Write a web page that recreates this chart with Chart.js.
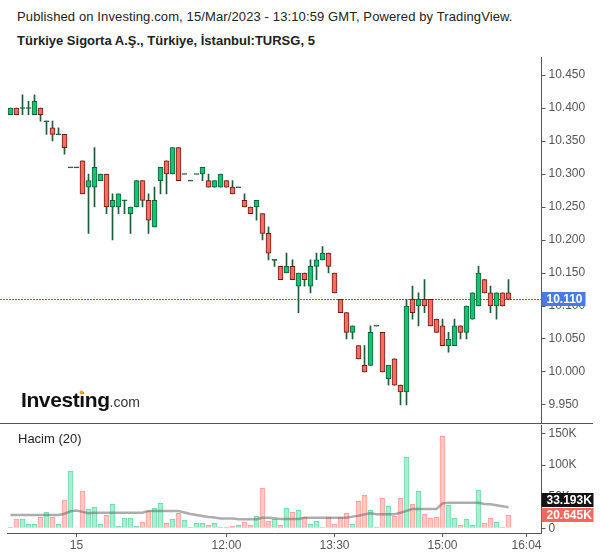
<!DOCTYPE html>
<html>
<head>
<meta charset="utf-8">
<script src="https://cdn.jsdelivr.net/npm/chart.js@4.4.0/dist/chart.umd.min.js"></script>
<style>
  body { margin: 0; background: #fff; font-family: "Liberation Sans", Arial, sans-serif; }
  #wrap { position: relative; width: 600px; height: 558px; overflow: hidden; }
  .t { position: absolute; left: 17px; font-size: 13px; color: #222; white-space: nowrap; line-height: 15px; }
  #pricebox { position: absolute; left: 0; top: 57px; width: 600px; height: 367px; }
  #volbox { position: absolute; left: 0; top: 424px; width: 600px; height: 134px; }
  #sep { position: absolute; left: 0; top: 423px; width: 593px; height: 1px; background: #555; }
  #hacim { position: absolute; left: 18px; top: 431px; font-size: 13px; color: #222; line-height: 15px; }
</style>
</head>
<body>
<div id="wrap">
  <div class="t" style="top:9px; letter-spacing:0.12px">Published on Investing.com, 15/Mar/2023 - 13:10:59 GMT, Powered by TradingView.</div>
  <div class="t" style="top:33px; font-weight:bold">Türkiye Sigorta A.Ş., Türkiye, İstanbul:TURSG, 5</div>
  <div id="pricebox"><canvas id="price"></canvas></div>
  <div id="volbox"><canvas id="vol"></canvas></div>
  <div id="sep"></div>
  <div id="hacim">Hacim (20)</div>
</div>
<script>
// 5 minute bars: end of 14 Mar, then 15 Mar; the last slots are empty space on the right
const slots = [
    "17:10", "17:15", "17:20", "17:25", "17:30", "17:35", "17:40", "17:45", "17:50", "17:55", "18:00",
    "09:55", "10:00", "10:05", "10:10", "10:15", "10:20", "10:25", "10:30", "10:35", "10:40", "10:45", "10:50", "10:55",
    "11:00", "11:05", "11:10", "11:15", "11:20", "11:25", "11:30", "11:35", "11:40", "11:45", "11:50", "11:55",
    "12:00", "12:05", "12:10", "12:15", "12:20", "12:25", "12:30", "12:35", "12:40", "12:45", "12:50", "12:55",
    "13:00", "13:05", "13:10", "13:15", "13:20", "13:25", "13:30", "13:35", "13:40", "13:45", "13:50", "13:55",
    "14:00", "14:05", "14:10", "14:15", "14:20", "14:25", "14:30", "14:35", "14:40", "14:45", "14:50", "14:55",
    "15:00", "15:05", "15:10", "15:15", "15:20", "15:25", "15:30", "15:35", "15:40", "15:45", "15:50", "15:55",
    "", "", "16:04", "", ""
];

// time axis labels shown (slot label -> text)
const tickLabels = { "09:55": "15", "12:00": "12:00", "13:30": "13:30", "15:00": "15:00", "16:04": "16:04" };
const priceTicks = [9.95, 10.00, 10.05, 10.10, 10.15, 10.20, 10.25, 10.30, 10.35, 10.40, 10.45];
const volumeTicks = [0, 50000, 100000, 150000];

const opens = [
    10.39, 10.40, 10.40, 10.40, 10.39, 10.40, 10.38, 10.37, 10.36, 10.36, 10.31,
    10.31, 10.32, 10.28, 10.28, 10.29, 10.30, 10.25, 10.25, 10.26, 10.24, 10.25, 10.29, 10.26,
    10.22, 10.29, 10.32, 10.30, 10.34, 10.30, 10.29, 10.30, 10.30, 10.29, 10.28, 10.28,
    10.29, 10.28, 10.28, 10.26, 10.25, 10.25, 10.24, 10.21, 10.17, 10.16, 10.15, 10.16,
    10.13, 10.15, 10.13, 10.16, 10.17, 10.18, 10.15, 10.11, 10.09, 10.06, 10.04, 10.01,
    10.01, 10.07, 10.06, 9.99, 10.02, 9.98, 9.97, 10.11, 10.10, 10.11, 10.11, 10.08,
    10.07, 10.04, 10.04, 10.07, 10.06, 10.08, 10.10, 10.14, 10.12, 10.10, 10.12, 10.12
];
const highs = [
    10.40, 10.40, 10.42, 10.41, 10.42, 10.40, 10.38, 10.38, 10.37, 10.36, 10.31,
    10.31, 10.32, 10.30, 10.34, 10.30, 10.30, 10.27, 10.27, 10.26, 10.25, 10.29, 10.29, 10.27,
    10.28, 10.31, 10.32, 10.34, 10.34, 10.30, 10.29, 10.30, 10.31, 10.30, 10.29, 10.30,
    10.29, 10.29, 10.28, 10.27, 10.25, 10.26, 10.24, 10.22, 10.17, 10.16, 10.18, 10.17,
    10.15, 10.15, 10.17, 10.18, 10.19, 10.18, 10.15, 10.11, 10.09, 10.07, 10.04, 10.04,
    10.07, 10.07, 10.06, 10.01, 10.02, 9.98, 10.11, 10.13, 10.12, 10.14, 10.11, 10.08,
    10.08, 10.06, 10.08, 10.07, 10.10, 10.12, 10.16, 10.14, 10.13, 10.12, 10.12, 10.14
];
const lows = [
    10.39, 10.39, 10.39, 10.39, 10.39, 10.38, 10.36, 10.35, 10.36, 10.33, 10.31,
    10.31, 10.27, 10.21, 10.25, 10.29, 10.24, 10.20, 10.24, 10.24, 10.21, 10.25, 10.25, 10.21,
    10.22, 10.27, 10.27, 10.30, 10.29, 10.30, 10.29, 10.30, 10.29, 10.28, 10.28, 10.28,
    10.28, 10.27, 10.28, 10.25, 10.24, 10.23, 10.20, 10.17, 10.16, 10.14, 10.15, 10.14,
    10.09, 10.13, 10.12, 10.14, 10.17, 10.15, 10.12, 10.09, 10.05, 10.05, 10.02, 10.00,
    10.01, 10.07, 10.00, 9.98, 9.98, 9.95, 9.95, 10.08, 10.07, 10.09, 10.07, 10.06,
    10.04, 10.03, 10.04, 10.05, 10.05, 10.08, 10.10, 10.12, 10.09, 10.08, 10.10, 10.11
];
const closes = [
    10.40, 10.39, 10.40, 10.40, 10.41, 10.39, 10.38, 10.36, 10.36, 10.34, 10.31,
    10.31, 10.27, 10.29, 10.31, 10.30, 10.25, 10.26, 10.27, 10.26, 10.25, 10.29, 10.26, 10.23,
    10.26, 10.31, 10.30, 10.34, 10.29, 10.30, 10.29, 10.30, 10.31, 10.28, 10.29, 10.30,
    10.28, 10.27, 10.28, 10.25, 10.24, 10.26, 10.21, 10.18, 10.17, 10.14, 10.16, 10.14,
    10.15, 10.14, 10.16, 10.17, 10.18, 10.16, 10.12, 10.09, 10.06, 10.07, 10.02, 10.00,
    10.06, 10.07, 10.00, 10.01, 9.98, 9.97, 10.10, 10.09, 10.11, 10.10, 10.07, 10.06,
    10.04, 10.05, 10.07, 10.06, 10.10, 10.12, 10.15, 10.12, 10.10, 10.12, 10.10, 10.11
];

const volumes = [
    1500, 14700, 14700, 6300, 6300, 17400, 25300, 17400, 6300, 44800, 90600,
    500, 59000, 30000, 33000, 6300, 20600, 38000, 3200, 15800, 15800, 3200, 9500, 27400,
    31600, 39500, 7900, 14200, 23700, 12700, 1600, 7900, 7900, 4700, 7900, 2000,
    2000, 3200, 4700, 9500, 4700, 19000, 63300, 11000, 14200, 4700, 31600, 25300,
    28500, 17400, 6300, 11000, 2000, 17400, 6300, 17400, 23700, 6300, 42700, 52200,
    28500, 2000, 47500, 34800, 19000, 47500, 112300, 38000, 58500, 22100, 15800, 17400,
    145500, 36400, 15800, 4700, 14200, 4700, 60000, 7900, 15800, 9500, 1600, 20645
];

// Hacim (20): moving average line
const volumeMA = [
    21000, 21000, 21000, 21000, 21000, 21000, 21000, 21000, 21000, 23000, 27000,
    28000, 26000, 24000, 24500, 24500, 24500, 24500, 24500, 24500, 24500, 24500, 24500, 27500,
    27500, 27500, 27500, 27500, 27500, 25000, 22500, 21000, 19500, 18000, 17000, 15500,
    15500, 15500, 14200, 14200, 14200, 14200, 16800, 16800, 15800, 14700, 14700, 14700,
    14700, 16800, 16800, 16800, 16800, 16800, 16800, 16800, 16800, 18500, 20000, 22000,
    23700, 22100, 22100, 22100, 22100, 24500, 27500, 30500, 30500, 30500, 30500, 30500,
    39500, 40500, 40500, 40500, 40500, 40500, 40500, 38500, 37900, 36500, 35000, 33193
];

const UP = "#0ec774", UP_EDGE = "#1b5b37";
const DOWN = "#ff6b5e", DOWN_EDGE = "#6d1a17";
const WICK = "#1d5d3b";
const VOL_UP = "#a8eed0", VOL_UP_EDGE = "#70dcaa";
const VOL_DOWN = "#ffc8c4", VOL_DOWN_EDGE = "#ffa09a";
const AXIS = "#555";
const FONT = '"Liberation Sans", Arial, sans-serif';

Chart.defaults.font.family = FONT;
Chart.defaults.font.size = 12;

const isDoji = (i) => opens[i] === closes[i];
const bodies = opens.map((o, i) => isDoji(i) ? [o - 0.00075, o + 0.00075] : [o, closes[i]]);
const wicks = lows.map((l, i) => [l, highs[i]]);
const bodyColors = opens.map((o, i) => isDoji(i) ? WICK : closes[i] > o ? UP : DOWN);
const bodyEdges = opens.map((o, i) => isDoji(i) ? WICK : closes[i] > o ? UP_EDGE : DOWN_EDGE);
const volColors = opens.map((o, i) => closes[i] >= o ? VOL_UP : VOL_DOWN);
const volEdges = opens.map((o, i) => closes[i] >= o ? VOL_UP_EDGE : VOL_DOWN_EDGE);

function rightAxisFit(scale) {
    scale.width = 58.5;
    scale.paddingTop = 0;
    scale.paddingBottom = 0;
}

function badge(ctx, x, yc, w, bg, text) {
    ctx.fillStyle = bg;
    ctx.fillRect(x, Math.round(yc) - 7, w, 14);
    ctx.fillStyle = "#fff";
    ctx.font = "bold 12px " + FONT;
    ctx.textBaseline = "middle";
    ctx.textAlign = "left";
    ctx.fillText(text, x + 5, Math.round(yc) + 0.5);
}

const priceExtras = {
    id: "priceExtras",
    beforeDatasetsDraw(chart) {
        const { ctx, chartArea } = chart;
        const y = Math.round(chart.scales.y.getPixelForValue(closes[closes.length - 1])) + 0.5;
        ctx.save();
        ctx.strokeStyle = "#3b6ef5";
        ctx.lineWidth = 1;
        ctx.setLineDash([2, 1]);
        ctx.beginPath();
        ctx.moveTo(0, y);
        ctx.lineTo(chartArea.right, y);
        ctx.stroke();
        ctx.restore();
    },
    afterDraw(chart) {
        const { ctx, chartArea } = chart;
        const last = closes[closes.length - 1];
        ctx.save();
        badge(ctx, chartArea.right, chart.scales.y.getPixelForValue(last), 44, "#4a7be3", last.toFixed(3));

        // Investing.com logo
        ctx.textBaseline = "alphabetic";
        ctx.font = "bold 21px " + FONT;
        ctx.letterSpacing = "-0.4px";
        ctx.fillStyle = "#111";
        ctx.fillText("Investing", 21, 350);
        const w = ctx.measureText("Investing").width;
        const dotX = 21 + ctx.measureText("Invest").width + ctx.measureText("i").width / 2 - 0.5;
        ctx.fillStyle = "#f7a21b";
        ctx.beginPath();
        ctx.arc(dotX, 335.5, 2, 0, Math.PI * 2);
        ctx.fill();
        ctx.letterSpacing = "0px";
        ctx.font = "14px " + FONT;
        ctx.fillStyle = "#333";
        ctx.fillText(".com", 21 + w, 350);
        ctx.restore();
    }
};

const volExtras = {
    id: "volExtras",
    afterDraw(chart) {
        const { ctx, chartArea } = chart;
        const yScale = chart.scales.y;
        const v = volumes[volumes.length - 1];
        const m = volumeMA[volumeMA.length - 1];
        const yv = yScale.getPixelForValue(v);
        const ym = Math.min(yScale.getPixelForValue(m), yv - 15);
        ctx.save();
        badge(ctx, chartArea.right, ym, 52, "#131313", (m / 1000).toFixed(3) + "K");
        badge(ctx, chartArea.right, yv, 52, "#f7675c", (v / 1000).toFixed(3) + "K");
        ctx.restore();
    }
};

new Chart(document.getElementById("price"), {
    type: "bar",
    data: {
        labels: slots,
        datasets: [
            {
                data: bodies,
                backgroundColor: bodyColors,
                borderColor: bodyEdges,
                borderWidth: 1,
                borderSkipped: false,
                barThickness: 5,
                grouped: false,
                order: 1
            },
            {
                data: wicks,
                backgroundColor: WICK,
                borderWidth: 0,
                barThickness: 1,
                grouped: false,
                order: 2
            }
        ]
    },
    options: {
        responsive: true,
        maintainAspectRatio: false,
        animation: false,
        events: [],
        layout: { padding: { left: 7.5, top: 0, right: 0, bottom: 0 } },
        plugins: { legend: { display: false }, tooltip: { enabled: false } },
        scales: {
            x: { display: false, offset: true },
            y: {
                position: "right",
                min: 9.921212,
                max: 10.477273,
                border: { display: true, color: AXIS },
                grid: { drawOnChartArea: false, drawTicks: true, tickLength: 4, color: AXIS },
                afterBuildTicks(scale) {
                    scale.ticks = priceTicks.map((v) => ({ value: v }));
                },
                ticks: {
                    color: AXIS,
                    padding: 3,
                    callback: (v) => Number(v).toFixed(3)
                },
                afterFit: rightAxisFit
            }
        }
    },
    plugins: [priceExtras]
});

new Chart(document.getElementById("vol"), {
    type: "bar",
    data: {
        labels: slots,
        datasets: [
            {
                type: "line",
                data: volumeMA,
                borderColor: "rgba(105, 105, 105, 0.55)",
                borderWidth: 2.5,
                pointRadius: 0,
                tension: 0,
                order: 1
            },
            {
                data: volumes,
                backgroundColor: volColors,
                borderColor: volEdges,
                borderWidth: 1,
                barThickness: 5,
                grouped: false,
                order: 2
            }
        ]
    },
    options: {
        responsive: true,
        maintainAspectRatio: false,
        animation: false,
        events: [],
        layout: { padding: { left: 7.5, top: 1, right: 0, bottom: 0 } },
        plugins: { legend: { display: false }, tooltip: { enabled: false } },
        scales: {
            x: {
                offset: true,
                border: { display: true, color: AXIS },
                grid: { offset: false, drawOnChartArea: false, tickLength: 4, color: AXIS },
                ticks: {
                    autoSkip: false,
                    maxRotation: 0,
                    minRotation: 0,
                    color: AXIS,
                    padding: 1,
                    callback: function (v) {
                        const l = this.getLabelForValue(v);
                        return tickLabels[l] !== undefined ? tickLabels[l] : null;
                    }
                },
                afterFit(scale) {
                    scale.height = 25;
                    scale.paddingLeft = 0;
                    scale.paddingRight = 0;
                }
            },
            y: {
                position: "right",
                min: -7435,
                max: 163420,
                border: { display: true, color: AXIS },
                grid: { drawOnChartArea: false, drawTicks: true, tickLength: 4, color: AXIS },
                afterBuildTicks(scale) {
                    scale.ticks = volumeTicks.map((v) => ({ value: v }));
                },
                ticks: {
                    color: AXIS,
                    padding: 3,
                    callback: (v) => v === 0 ? "0" : (v / 1000) + "K"
                },
                afterFit: rightAxisFit
            }
        }
    },
    plugins: [volExtras]
});
</script>
</body>
</html>
